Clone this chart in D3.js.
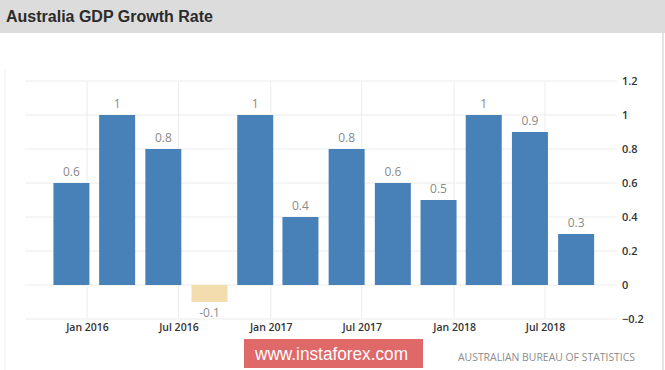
<!DOCTYPE html>
<html>
<head>
<meta charset="utf-8">
<script src="https://cdn.jsdelivr.net/npm/d3@7"></script>
<style>
  body { margin: 0; background: #fff; }
  svg { display: block; font-family: "Open Sans", "Liberation Sans", sans-serif; }
</style>
</head>
<body>
<div id="chart"></div>
<script>
// quarters (plotted at first day of the last month of each quarter)
const quarters = ["2015-12-01", "2016-03-01", "2016-06-01", "2016-09-01",
                  "2016-12-01", "2017-03-01", "2017-06-01", "2017-09-01",
                  "2017-12-01", "2018-03-01", "2018-06-01", "2018-09-01"];
const growth = [0.6, 1, 0.8, -0.1, 1, 0.4, 0.8, 0.6, 0.5, 1, 0.9, 0.3];
const yTicks = [-0.2, 0, 0.2, 0.4, 0.6, 0.8, 1, 1.2];
const xTicks = ["2016-01-01", "2016-07-01", "2017-01-01", "2017-07-01", "2018-01-01", "2018-07-01"];

const W = 665, H = 370;
const parse = d3.timeParse("%Y-%m-%d");
const data = quarters.map((q, i) => ({ date: parse(q), value: growth[i] }));

const svg = d3.select("#chart").append("svg")
  .attr("width", W).attr("height", H);

// title bar
svg.append("rect").attr("x", 0).attr("y", 0).attr("width", W).attr("height", 33)
  .attr("fill", "#dcdcdc");
svg.append("text").attr("x", 6).attr("y", 22)
  .attr("fill", "#2b2b2b").style("font-family", "'Liberation Sans', Arial, sans-serif")
  .style("font-size", "16px").style("font-weight", "bold")
  .text("Australia GDP Growth Rate");

// faint panel edges
svg.append("line").attr("x1", 5).attr("x2", 5).attr("y1", 70).attr("y2", H)
  .attr("stroke", "#f0f0f0");
svg.append("line").attr("x1", 663).attr("x2", 663).attr("y1", 33).attr("y2", H)
  .attr("stroke", "#e4e4e4").attr("stroke-width", 2);

const plotLeft = 25, plotRight = 617;

const x = d3.scaleTime()
  .domain([parse("2016-01-01"), parse("2018-07-01")])
  .range([87, 545]);

const y = d3.scaleLinear()
  .domain([-0.2, 1.2])
  .range([319, 81]);

// horizontal gridlines
svg.append("g").selectAll("line").data(yTicks).join("line")
  .attr("x1", plotLeft).attr("x2", plotRight)
  .attr("y1", d => y(d)).attr("y2", d => y(d))
  .attr("stroke", "#ececec");

// vertical gridlines
svg.append("g").selectAll("line").data(xTicks).join("line")
  .attr("x1", d => x(parse(d))).attr("x2", d => x(parse(d)))
  .attr("y1", y(1.2)).attr("y2", y(-0.2))
  .attr("stroke", "#ececec");

// right axis labels
const yAxis = svg.append("g")
  .attr("transform", `translate(${plotRight},0)`)
  .call(d3.axisRight(y).tickValues(yTicks).tickSize(0).tickPadding(5)
    .tickFormat(d => d3.format("")(+d.toFixed(1))));
yAxis.select(".domain").remove();
yAxis.selectAll("text").attr("fill", "#333").style("font-size", "11px")
  .style("font-weight", "600").style("font-family", "'Open Sans', sans-serif");

// bottom axis labels
const xAxis = svg.append("g")
  .attr("transform", `translate(0,${y(-0.2)})`)
  .call(d3.axisBottom(x).tickValues(xTicks.map(parse)).tickSize(0).tickPadding(5)
    .tickFormat(d3.timeFormat("%b %Y")));
xAxis.select(".domain").remove();
xAxis.selectAll("text").attr("fill", "#333").style("font-size", "10.5px")
  .style("font-weight", "600").style("font-family", "'Open Sans', sans-serif");

// bars
const barW = 36;
svg.append("g").selectAll("rect").data(data).join("rect")
  .attr("x", d => x(d.date) - barW / 2)
  .attr("width", barW)
  .attr("y", d => y(Math.max(0, d.value)))
  .attr("height", d => Math.abs(y(d.value) - y(0)))
  .attr("fill", d => d.value >= 0 ? "#4880b8" : "#f3dcae");

// value labels
svg.append("g").selectAll("text").data(data).join("text")
  .attr("x", d => x(d.date))
  .attr("y", d => d.value >= 0 ? y(d.value) - 7 : y(d.value) + 15)
  .attr("text-anchor", "middle")
  .attr("fill", "#8a8a8a").style("font-size", "12px")
  .text(d => d.value);

// source
svg.append("text").attr("x", 458).attr("y", 361)
  .attr("textLength", 177).attr("lengthAdjust", "spacingAndGlyphs")
  .attr("fill", "#8c8c8c").style("font-size", "11px")
  .text("AUSTRALIAN BUREAU OF STATISTICS");

// watermark
svg.append("rect").attr("x", 244).attr("y", 339).attr("width", 179).attr("height", 29)
  .attr("fill", "#df6868");
svg.append("text").attr("x", 255).attr("y", 360)
  .attr("textLength", 153).attr("lengthAdjust", "spacingAndGlyphs")
  .attr("fill", "#fff").style("font-family", "'Liberation Sans', Arial, sans-serif")
  .style("font-size", "18px")
  .text("www.instaforex.com");
</script>
</body>
</html>
